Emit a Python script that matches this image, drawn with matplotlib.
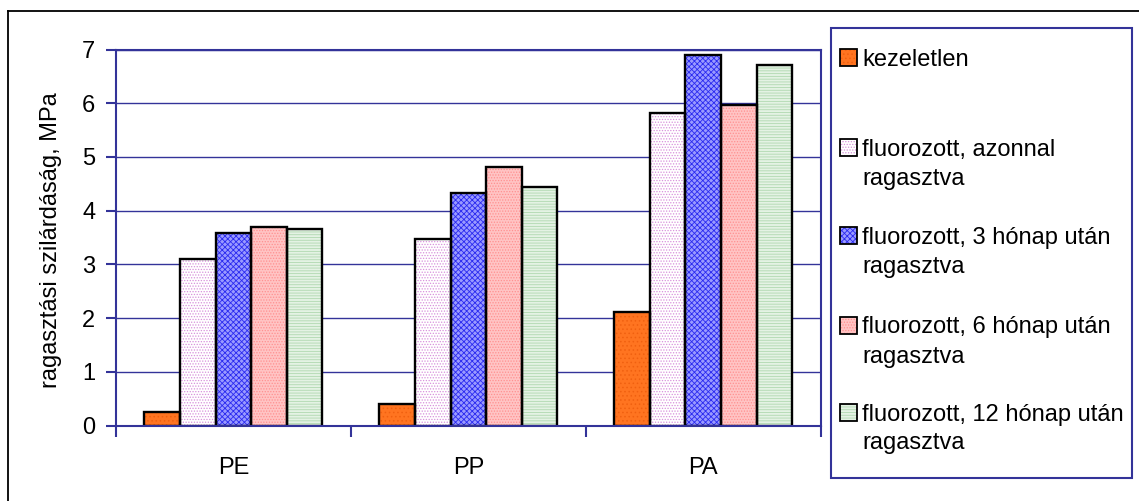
import matplotlib
matplotlib.use("Agg")
import matplotlib.pyplot as plt
from matplotlib.patches import Rectangle
from matplotlib.lines import Line2D
import numpy as np

# ---- data -------------------------------------------------------------
categories = ["PE", "PP", "PA"]
series_names = [
    "kezeletlen",
    "fluorozott, azonnal\nragasztva",
    "fluorozott, 3 hónap után\nragasztva",
    "fluorozott, 6 hónap után\nragasztva",
    "fluorozott, 12 hónap után\nragasztva",
]
kezeletlen = [0.26, 0.40, 2.11]
azonnal = [3.10, 3.48, 5.81]
honap_3 = [3.58, 4.33, 6.89]
honap_6 = [3.70, 4.81, 5.96]
honap_12 = [3.66, 4.44, 6.71]
series_values = [kezeletlen, azonnal, honap_3, honap_6, honap_12]
y_ticks = [0, 1, 2, 3, 4, 5, 6, 7]
y_label = "ragasztási szilárdáság, MPa"

# ---- styling ----------------------------------------------------------
NAVY = "#333399"
# (face colour, hatch pattern, hatch colour) for each series
styles = [
    ("#FF7420", "....", "#F06010"),
    ("#FFFFFF", "......", "#D890DC"),
    ("#9A9AFF", "xxxxxx", "#2A2AF0"),
    ("#FFC4C4", "......", "#FF9090"),
    ("#E4F2E4", "------", "#B0D8B0"),
]

plt.rcParams["font.family"] = ["Liberation Sans", "DejaVu Sans"]
plt.rcParams["hatch.linewidth"] = 0.6

FS = 17

W, H = 1139, 501
fig = plt.figure(figsize=(W / 100, H / 100), dpi=100)

# plot area in pixel coordinates
px_left, px_right, px_top, px_bottom = 116, 820.7, 49.5, 425.5
ax = fig.add_axes([px_left / W, 1 - px_bottom / H,
                   (px_right - px_left) / W, (px_bottom - px_top) / H])

n_series = len(series_values)
gap = 1.6  # gap between groups relative to a single bar width
bar_w = 1.0 / (n_series + gap)
x = np.arange(len(categories))

for i, (vals, (face, hatch, hcol)) in enumerate(zip(series_values, styles)):
    offs = x - (n_series * bar_w) / 2 + (i + 0.5) * bar_w
    ax.bar(offs, vals, width=bar_w, facecolor=face, hatch=hatch,
           edgecolor=hcol, linewidth=0, zorder=3)
    ax.bar(offs, vals, width=bar_w, fill=False, edgecolor="black",
           linewidth=1.7, zorder=4)

ax.set_xlim(-0.5, len(categories) - 0.5)
ax.set_ylim(0, 7)
ax.set_yticks(y_ticks)
ax.set_yticklabels([str(t) for t in y_ticks], fontsize=FS)
ax.set_xticks(x)
ax.set_xticklabels(categories, fontsize=FS)
ax.tick_params(axis="x", length=0, pad=23)
ax.tick_params(axis="y", length=7, width=1.5, color=NAVY, pad=8, direction="out")

# category separator ticks on the x axis
ax.set_xticks(np.arange(len(categories) + 1) - 0.5, minor=True)
ax.tick_params(axis="x", which="minor", length=8, width=1.5, color=NAVY,
               direction="out")

ax.grid(axis="y", color=NAVY, linewidth=1.0, zorder=1)
ax.set_axisbelow(True)
for s in ax.spines.values():
    s.set_color(NAVY)
    s.set_linewidth(1.5)
    s.set_zorder(5)

fig.text(51 / W, 1 - 240 / H, y_label, rotation=90, fontsize=FS,
         ha="center", va="center")

# outer chart frame
fig.add_artist(Line2D([8 / W, 8 / W], [1 - 11 / H, -0.1], color="black",
                      linewidth=1.3, transform=fig.transFigure))
fig.add_artist(Line2D([8 / W, 1.1], [1 - 11 / H, 1 - 11 / H], color="black",
                      linewidth=1.3, transform=fig.transFigure))

# legend box
lx0, lx1, ly0, ly1 = 830.5, 1132, 28, 477.5
fig.add_artist(Rectangle((lx0 / W, 1 - ly1 / H), (lx1 - lx0) / W,
                         (ly1 - ly0) / H, transform=fig.transFigure,
                         facecolor="white", edgecolor=NAVY, linewidth=1.5,
                         zorder=2))

entry_y = [57.7, 147.7, 235.7, 325.0, 412.0]
line_gap = 29
sq = 17
for name, (face, hatch, hcol), ey in zip(series_names, styles, entry_y):
    fig.add_artist(Rectangle((840 / W, 1 - (ey + sq / 2) / H), sq / W, sq / H,
                             transform=fig.transFigure, facecolor=face,
                             hatch=hatch, edgecolor=hcol, linewidth=0,
                             zorder=3))
    fig.add_artist(Rectangle((840 / W, 1 - (ey + sq / 2) / H), sq / W, sq / H,
                             transform=fig.transFigure, fill=False,
                             edgecolor="black", linewidth=1.3, zorder=4))
    for k, line in enumerate(name.split("\n")):
        fig.text(862 / W, 1 - (ey + k * line_gap) / H, line, fontsize=FS,
                 ha="left", va="center_baseline", zorder=5)

fig.savefig("out.png", dpi=100)
